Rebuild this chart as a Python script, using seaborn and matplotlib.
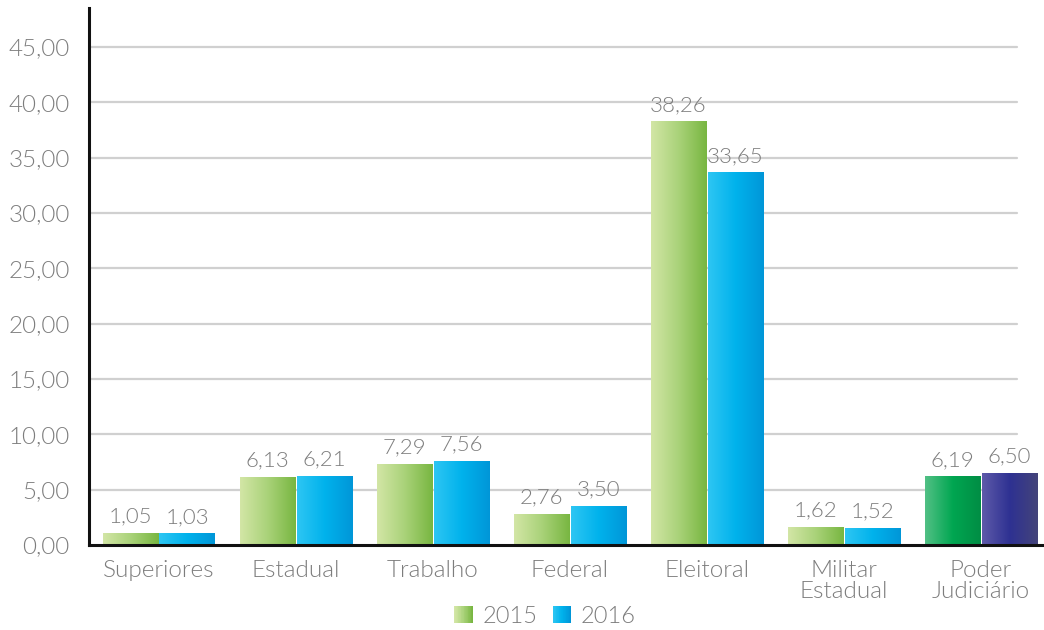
import numpy as np
import pandas as pd
import matplotlib
matplotlib.use("Agg")
import matplotlib.pyplot as plt
from matplotlib.colors import LinearSegmentedColormap
from matplotlib.patches import Rectangle
from matplotlib.legend_handler import HandlerBase
import seaborn as sns

categories = ["Superiores", "Estadual", "Trabalho", "Federal", "Eleitoral",
              "Militar\nEstadual", "Poder\nJudiciário"]
years = ["2015", "2016"]
values_2015 = [1.05, 6.13, 7.29, 2.76, 38.26, 1.62, 6.19]
values_2016 = [1.03, 6.21, 7.56, 3.50, 33.65, 1.52, 6.50]
yticks = [0, 5, 10, 15, 20, 25, 30, 35, 40, 45]

grad_2015 = ["#d3e6a6", "#a9d279", "#78b641"]
grad_2016 = ["#2ec6f3", "#00b2ec", "#0096d8"]
grad_total_2015 = ["#52c085", "#00a651", "#008d44"]
grad_total_2016 = ["#5e5aa9", "#2e3192", "#44447a"]

sns.set_theme(style="white")
plt.rcParams["font.family"] = ["Lato", "DejaVu Sans"]
plt.rcParams["font.weight"] = 300
TXT = "#7d7d7d"

df = pd.DataFrame({
    "categoria": categories * 2,
    "ano": [years[0]] * len(categories) + [years[1]] * len(categories),
    "valor": values_2015 + values_2016,
})

fig = plt.figure(figsize=(10.44, 6.30), dpi=100)
ax = fig.add_axes([0.0853, 0.135, 0.9147, 0.852])

sns.barplot(data=df, x="categoria", y="valor", hue="ano", order=categories,
            hue_order=years, palette=["#a9d279", "#00b2ec"], width=0.83,
            gap=0.02, ax=ax, legend=False, linewidth=0)

xlim = (-0.51, 6.46)
ylim = (0, 48.5)

def gradient_fill(ax, patch, colors):
    x0, y0 = patch.get_x(), patch.get_y()
    w, h = patch.get_width(), patch.get_height()
    cmap = LinearSegmentedColormap.from_list("g", colors)
    grad = np.linspace(0, 1, 256).reshape(1, -1)
    ax.imshow(grad, cmap=cmap, aspect="auto", extent=(x0, x0 + w, y0, y0 + h),
              zorder=patch.get_zorder() + 0.1, interpolation="bicubic")

n = len(categories)
for i, p in enumerate(ax.patches):
    hue_idx = i // n
    cat_idx = i % n
    if cat_idx == n - 1:
        cols = grad_total_2015 if hue_idx == 0 else grad_total_2016
    else:
        cols = grad_2015 if hue_idx == 0 else grad_2016
    gradient_fill(ax, p, cols)
    val = p.get_height()
    ax.text(p.get_x() + p.get_width() / 2, val + 0.6,
            f"{val:.2f}".replace(".", ","), ha="center", va="bottom",
            fontsize=16, color=TXT, zorder=5)

ax.set_xlim(*xlim)
ax.set_ylim(*ylim)

# horizontal guide lines (stop short of the right edge)
for t in yticks[1:]:
    ax.plot([xlim[0], 6.26], [t, t], color="#d0d0d0", lw=1.6, zorder=0.5)

ax.set_yticks(yticks)
ax.set_yticklabels([f"{t:.2f}".replace(".", ",") for t in yticks],
                   fontsize=17.5, color=TXT)
ax.set_xticks(range(n))
ax.set_xticklabels(categories, fontsize=17.5, color=TXT, linespacing=1.0)
ax.tick_params(axis="both", length=0)
ax.tick_params(axis="y", pad=14)
ax.tick_params(axis="x", pad=11)
ax.set_xlabel("")
ax.set_ylabel("")

for side in ["top", "right"]:
    ax.spines[side].set_visible(False)
for side in ["left", "bottom"]:
    ax.spines[side].set_color("#111111")
    ax.spines[side].set_linewidth(2.2)


class GradientHandler(HandlerBase):
    def __init__(self, colors):
        super().__init__()
        self.colors = colors

    def create_artists(self, legend, orig_handle, xdescent, ydescent,
                       width, height, fontsize, trans):
        cmap = LinearSegmentedColormap.from_list("g", self.colors)
        steps = 24
        arts = []
        for k in range(steps):
            r = Rectangle((-xdescent + width * k / steps, -ydescent),
                          width / steps + 0.3, height,
                          facecolor=cmap(k / (steps - 1)), edgecolor="none",
                          transform=trans)
            arts.append(r)
        return arts


h15 = Rectangle((0, 0), 1, 1)
h16 = Rectangle((0, 0), 1, 1)
fig.legend([h15, h16], years, loc="center", bbox_to_anchor=(0.522, 0.022),
           ncol=2, frameon=False, fontsize=17, labelcolor=TXT,
           handlelength=0.78, handleheight=0.78, handletextpad=0.4,
           columnspacing=0.65,
           handler_map={h15: GradientHandler(grad_2015),
                        h16: GradientHandler(grad_2016)})

fig.savefig("out.png", dpi=100)
